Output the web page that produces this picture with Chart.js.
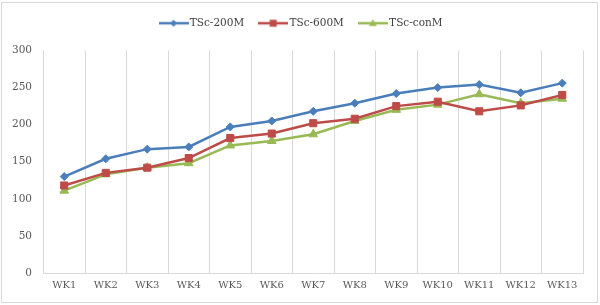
<!DOCTYPE html>
<html>
<head>
<meta charset="utf-8">
<script src="https://cdn.jsdelivr.net/npm/chart.js@4"></script>
<style>
html,body{margin:0;padding:0;background:#fff;}
#wrap{width:600px;height:305px;position:relative;}
</style>
</head>
<body>
<div id="wrap"><canvas id="c" width="600" height="305"></canvas></div>
<script>
const categories = ["WK1","WK2","WK3","WK4","WK5","WK6","WK7","WK8","WK9","WK10","WK11","WK12","WK13"];
const tsc200M = [130, 154, 167, 170, 197, 205, 218, 229, 242, 250, 254, 243, 256];
const tsc600M = [118, 135, 142, 155, 182, 188, 202, 208, 225, 231, 218, 226, 240];
const tscConM = [111, 133, 142, 148, 172, 178, 187, 205, 220, 227, 241, 229, 235];
const yTicks = [0, 50, 100, 150, 200, 250, 300];

const BLUE = '#4a7ebb', RED = '#be4b48', GREEN = '#98b954';
const FONT = "'DejaVu Serif', 'Liberation Serif', serif";

function legendIcon(color, style, r) {
  const cv = document.createElement('canvas');
  cv.width = 30; cv.height = 12;
  const g = cv.getContext('2d');
  g.strokeStyle = color; g.fillStyle = color; g.lineWidth = 2.5;
  g.beginPath(); g.moveTo(0, 6); g.lineTo(30, 6); g.stroke();
  g.beginPath();
  if (style === 'rectRot') { g.moveTo(15, 6 - r); g.lineTo(15 + r, 6); g.lineTo(15, 6 + r); g.lineTo(15 - r, 6); }
  else if (style === 'rect') { g.rect(15 - r, 6 - r, 2 * r, 2 * r); }
  else { g.moveTo(15, 6 - r); g.lineTo(15 + r, 6 + r * 0.7); g.lineTo(15 - r, 6 + r * 0.7); }
  g.closePath(); g.fill();
  return cv;
}
const icons = [legendIcon(BLUE, 'rectRot', 3.5), legendIcon(RED, 'rect', 3.5), legendIcon(GREEN, 'triangle', 4)];

const borderPlugin = {
  id: 'outerBorder',
  beforeLayout(chart) {
    const lg = chart.legend;
    if (lg && !lg._patched) {
      const fit = lg.fit;
      lg.fit = function () { fit.call(this); this.height += 12; };
      lg._patched = true;
    }
  },
  afterLayout(chart) {
    const lg = chart.legend;
    if (lg) { lg.left += 11; lg.right += 11; }
  },
  afterDraw(chart) {
    const ctx = chart.ctx;
    ctx.save();
    ctx.strokeStyle = '#d9d9d9';
    ctx.lineWidth = 1;
    ctx.strokeRect(1.5, 2.5, 596, 300);
    ctx.restore();
  }
};

function ds(label, data, color, style, radius) {
  return {
    label, data,
    borderColor: color, backgroundColor: color,
    pointBackgroundColor: color, pointBorderColor: color,
    borderWidth: 2.5, pointStyle: style, pointRadius: radius, pointBorderWidth: 1,
    tension: 0
  };
}

new Chart(document.getElementById('c'), {
  type: 'line',
  data: {
    labels: categories,
    datasets: [
      ds('TSc-200M', tsc200M, BLUE, 'rectRot', 4),
      ds('TSc-600M', tsc600M, RED, 'rect', 5),
      ds('TSc-conM', tscConM, GREEN, 'triangle', 5)
    ]
  },
  options: {
    responsive: false,
    animation: false,
    devicePixelRatio: 1,
    layout: { padding: { left: 0, right: 17, top: 0, bottom: 0 } },
    plugins: {
      tooltip: { enabled: false },
      legend: {
        position: 'top',
        labels: {
          usePointStyle: true,
          pointStyleWidth: 22,
          padding: 18,
          color: '#404040',
          font: { family: FONT, size: 10.5 },
          generateLabels(chart) {
            const items = Chart.defaults.plugins.legend.labels.generateLabels(chart);
            items.forEach((it, i) => { it.pointStyle = icons[i]; });
            return items;
          }
        }
      }
    },
    scales: {
      x: {
        offset: true,
        grid: { display: true, offset: true, color: '#d9d9d9', lineWidth: 1, drawTicks: false },
        border: { display: true, color: '#d9d9d9' },
        ticks: { color: '#595959', font: { family: FONT, size: 10 }, padding: 6, maxRotation: 0, autoSkip: false },
        afterFit(s) { s.height = 32; }
      },
      y: {
        min: 0, max: 300,
        afterBuildTicks(s) { s.ticks = yTicks.map(v => ({ value: v })); },
        grid: { display: false, drawTicks: false },
        border: { display: false },
        ticks: { color: '#595959', font: { family: FONT, size: 10.5 }, padding: 11.5 },
        afterFit(s) { s.width = 43.5; }
      }
    }
  },
  plugins: [borderPlugin]
});
</script>
</body>
</html>
